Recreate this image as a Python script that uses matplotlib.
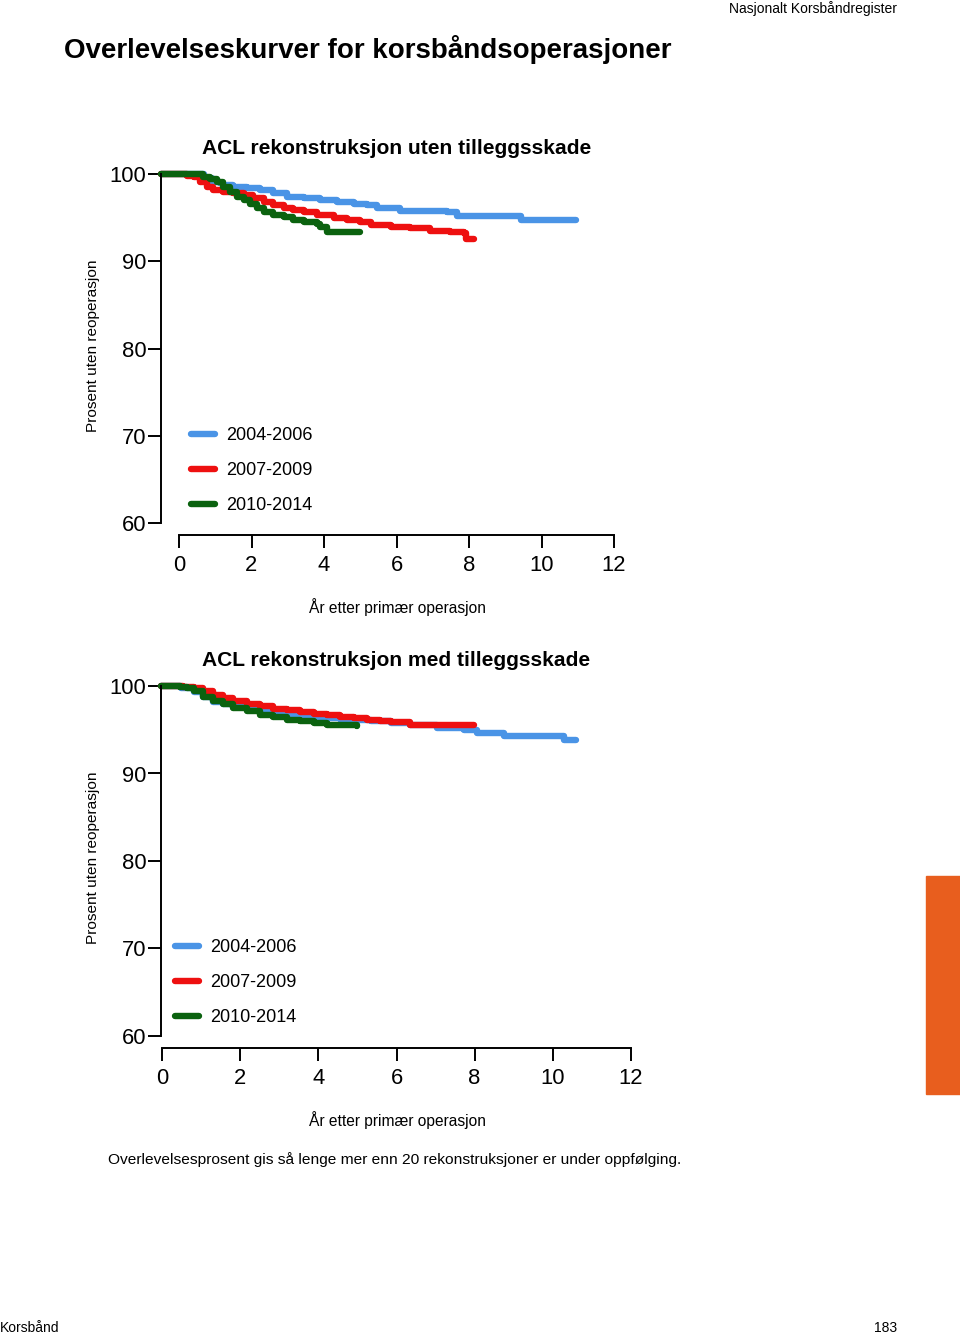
import matplotlib
matplotlib.use("Agg")
from matplotlib import pyplot as plt
from matplotlib.patches import Rectangle
from matplotlib.lines import Line2D

plt.rcParams['font.family'] = ['Liberation Sans', 'DejaVu Sans']

W, H = 960, 1336

labels = ["2004-2006", "2007-2009", "2010-2014"]
colors = ["#4A94E6", "#EE1010", "#0B620F"]
xticks = [0, 2, 4, 6, 8, 10, 12]
yticks = [60, 70, 80, 90, 100]

# ACL rekonstruksjon uten tilleggsskade
top_blue_t = [0, 1.1, 1.3, 1.5, 1.59, 1.85, 2.19, 2.53, 2.87, 3.21, 3.64, 4.07, 4.49, 4.92, 5.26, 5.52, 6.11, 7.31, 7.56, 9.18, 10.59]
top_blue_s = [100, 99.5, 99.1, 99.0, 98.7, 98.5, 98.4, 98.2, 97.8, 97.4, 97.2, 97.0, 96.8, 96.6, 96.4, 96.1, 95.8, 95.6, 95.2, 94.75, 94.75]
top_red_t = [0, 0.66, 0.83, 1.0, 1.17, 1.34, 1.59, 1.85, 2.11, 2.36, 2.62, 2.87, 3.13, 3.38, 3.64, 3.98, 4.41, 4.75,
             5.09, 5.35, 5.86, 6.37, 6.88, 7.39, 7.73, 7.78, 7.99]
top_red_s = [100, 99.8, 99.6, 99.1, 98.5, 98.2, 97.97, 97.8, 97.6, 97.2, 96.8, 96.4, 96.1, 95.9, 95.7, 95.3, 95.0, 94.7,
             94.5, 94.15, 93.96, 93.8, 93.5, 93.3, 93.2, 92.6, 92.6]
top_green_t = [0, 1.08, 1.25, 1.42, 1.59, 1.76, 1.94, 2.11, 2.28, 2.45, 2.62, 2.87, 3.13, 3.38, 3.64, 3.98, 4.07, 4.24, 5.09]
top_green_s = [100, 99.7, 99.4, 99.1, 98.5, 97.97, 97.4, 97.0, 96.6, 96.1, 95.7, 95.3, 95.1, 94.7, 94.5, 94.3, 93.96, 93.3, 93.3]

# ACL rekonstruksjon med tilleggsskade
bot_blue_t = [0, 0.5, 0.83, 1.08, 1.34, 1.59, 1.85, 2.19, 2.53, 2.87, 3.21, 3.55, 3.9, 4.24, 4.58, 5.0, 5.35, 5.86, 6.37,
              7.05, 7.73, 8.07, 8.75, 10.29, 10.59]
bot_blue_s = [100, 99.8, 99.3, 98.7, 98.2, 97.9, 97.6, 97.3, 97.0, 96.8, 96.6, 96.5, 96.4, 96.3, 96.2, 96.1, 96.0, 95.8, 95.5,
              95.2, 95.0, 94.6, 94.3, 93.8, 93.8]
bot_red_t = [0, 0.57, 0.83, 1.08, 1.34, 1.59, 1.85, 2.19, 2.53, 2.87, 3.21, 3.55, 3.9, 4.24, 4.58, 4.92, 5.26, 5.6, 5.86,
             6.37, 6.88, 7.99]
bot_red_s = [100, 99.9, 99.8, 99.4, 99.0, 98.6, 98.25, 97.9, 97.7, 97.4, 97.2, 97.0, 96.8, 96.65, 96.5, 96.3, 96.15, 95.95,
             95.9, 95.6, 95.5, 95.5]
bot_green_t = [0, 0.49, 0.66, 0.83, 1.08, 1.34, 1.59, 1.85, 2.19, 2.53, 2.87, 3.21, 3.55, 3.9, 4.24, 4.58, 5.0]
bot_green_s = [100, 99.9, 99.8, 99.4, 98.8, 98.25, 97.9, 97.5, 97.1, 96.7, 96.4, 96.15, 95.95, 95.8, 95.6, 95.5, 95.4]


def fx(x):
    return x / W


def fy(y):
    return 1 - y / H


def drawPanel(fig, title, series, y100, y60, xaxis_y, xaxis_left, xaxis_right, leg_x, leg_y, title_y):
    ax = fig.add_axes([fx(161), fy(y60), fx(631 - 161), (y60 - y100) / H])
    for (t, s), c in zip(series, colors):
        ax.step(t, s, where='post', color=c, lw=4.6, solid_capstyle='round',
                solid_joinstyle='round', clip_on=False)
    ax.set_xlim(0, 12)
    ax.set_ylim(60, 100)
    ax.set_yticks(yticks)
    ax.set_xticks([])
    for side in ['top', 'right', 'bottom']:
        ax.spines[side].set_visible(False)
    ax.spines['left'].set_linewidth(1.4)
    ax.tick_params(axis='y', direction='out', length=9.5, width=1.4, pad=1, labelsize=15.8)
    ax.patch.set_alpha(0)

    # detached x axis
    axx = fig.add_axes([fx(xaxis_left), fy(xaxis_y), fx(xaxis_right - xaxis_left), 0.001])
    axx.set_xlim(0, 12)
    axx.set_xticks(xticks)
    axx.set_yticks([])
    for side in ['top', 'right', 'left']:
        axx.spines[side].set_visible(False)
    axx.spines['bottom'].set_linewidth(1.4)
    axx.tick_params(axis='x', direction='out', length=9.5, width=1.4, pad=5, labelsize=15.8)
    axx.patch.set_alpha(0)

    fig.text(fx(396.5), fy(title_y), title, ha='center', va='center', fontsize=15.1, fontweight='bold')
    fig.text(fx(93), fy((y100 + y60) / 2 - 3), "Prosent uten reoperasjon", rotation=90,
             ha='center', va='center', fontsize=11.1)
    fig.text(fx(397.5), fy(xaxis_y + 72), "År etter primær operasjon", ha='center', va='center', fontsize=11.2)

    handles = [Line2D([0], [0], color=c, lw=4.6, solid_capstyle='round') for c in colors]
    ax.legend(handles, labels, loc='upper left', bbox_to_anchor=(fx(leg_x), fy(leg_y)),
              bbox_transform=fig.transFigure, frameon=False, fontsize=13,
              handlelength=1.35, handletextpad=0.6, labelspacing=1.0, borderpad=0, borderaxespad=0)
    return ax


fig = plt.figure(figsize=(W / 100, H / 100), dpi=100)

fig.text(fx(897), fy(9), "Nasjonalt Korsbåndregister", ha='right', va='center', fontsize=10)
fig.text(fx(64), fy(50), "Overlevelseskurver for korsbåndsoperasjoner", ha='left', va='center',
         fontsize=20.0, fontweight='bold')

drawPanel(fig, "ACL rekonstruksjon uten tilleggsskade",
          [(top_blue_t, top_blue_s), (top_red_t, top_red_s), (top_green_t, top_green_s)],
          174, 523, 535, 179, 614, 191, 427, 148)
drawPanel(fig, "ACL rekonstruksjon med tilleggsskade",
          [(bot_blue_t, bot_blue_s), (bot_red_t, bot_red_s), (bot_green_t, bot_green_s)],
          686, 1036, 1048, 162, 631, 175, 939, 660)

fig.text(fx(108), fy(1160), "Overlevelsesprosent gis så lenge mer enn 20 rekonstruksjoner er under oppfølging.",
         ha='left', va='center', fontsize=11.15)
fig.text(fx(0), fy(1328), "Korsbånd", ha='left', va='center', fontsize=10)
fig.text(fx(897), fy(1328), "183", ha='right', va='center', fontsize=10)

fig.patches.append(Rectangle((fx(926), fy(1094)), fx(34), (1094 - 876) / H,
                             transform=fig.transFigure, color='#E85E1E', zorder=0))

fig.savefig("out.png", dpi=100)
